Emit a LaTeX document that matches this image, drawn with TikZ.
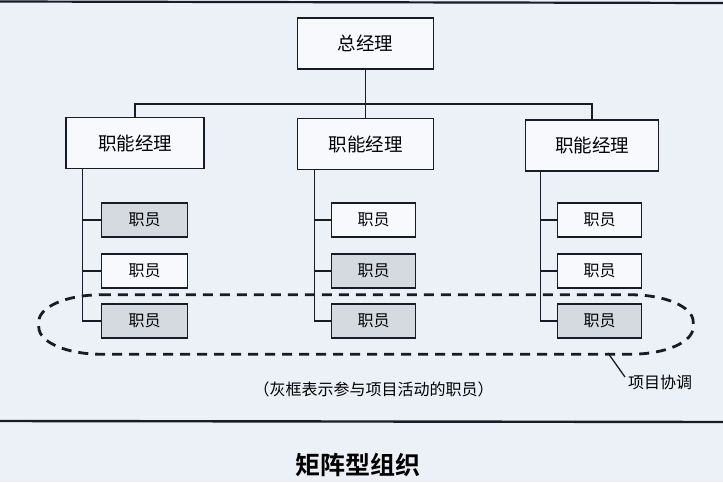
\documentclass[tikz,border=0pt]{standalone}
\usepackage{fontspec}
\newfontfamily\cjk{Noto Sans CJK SC}[BoldFont={* Bold}]
\usetikzlibrary{positioning}
\definecolor{sfondo}{RGB}{236,240,247}
\definecolor{grigio}{RGB}{213,217,224}
\definecolor{scuro}{RGB}{25,28,40}
\tikzset{
  capo/.style={draw=scuro, line width=1.6pt, fill=white!60!sfondo, inner sep=0pt,
    minimum width=136pt, minimum height=51pt, font=\cjk\fontsize{18.5}{20}\selectfont},
  impiegato/.style={draw=scuro, line width=1.6pt, fill=white!60!sfondo, inner sep=0pt,
    minimum width=84pt, minimum height=34pt, font=\cjk\fontsize{16}{18}\selectfont},
  attivo/.style={impiegato, fill=grigio},
  linea/.style={draw=scuro, line width=1.3pt},
  progetto/.style={draw=scuro, line width=2.8pt, dash pattern=on 10pt off 7pt},
}
\begin{document}
\begin{tikzpicture}[x=1pt, y=-1pt]
    \fill[sfondo] (0,0) rectangle (723,482);
    \useasboundingbox (0,0) rectangle (723,482);
    \draw[scuro, line width=2.2pt] (0,1.5) -- (723,3);

    % Dirigenti
    \node[capo] (gm) at (365.5,43.5) {总经理};
    \node[capo, minimum width=138pt] (fm1) at (135,143) {职能经理};
    \node[capo] (fm2) at (365.5,144) {职能经理};
    \node[capo, minimum width=133pt] (fm3) at (592,145.5) {职能经理};

    % Impiegati
    \node[attivo, minimum width=86pt] (e11) at (144.5,220) {职员};
    \node[impiegato, minimum width=86pt] (e12) at (144.5,271) {职员};
    \node[attivo, minimum width=86pt] (e13) at (144.5,321) {职员};
    \node[impiegato] (e21) at (373.5,220) {职员};
    \node[attivo]    (e22) at (373.5,271) {职员};
    \node[attivo]    (e23) at (373.5,321) {职员};
    \node[impiegato] (e31) at (599.5,220) {职员};
    \node[impiegato] (e32) at (599.5,271) {职员};
    \node[attivo]    (e33) at (599.5,321) {职员};

    % Collegamenti
    \coordinate (bar) at (365.5,104);
    \draw[linea] (gm.south) -- (bar) -- (fm2.north);
    \draw[linea] (fm1.north) |- (bar) -| (fm3.north);

    \coordinate (s1) at ([xshift=17pt]fm1.south west);
    \coordinate (s2) at ([xshift=18pt]fm2.south west);
    \coordinate (s3) at ([xshift=16pt]fm3.south west);
    \draw[linea] (s1) |- (e13.west);
    \draw[linea] (e11.west) -- (e11.west -| s1);
    \draw[linea] (e12.west) -- (e12.west -| s1);
    \draw[linea] (s2) |- (e23.west);
    \draw[linea] (e21.west) -- (e21.west -| s2);
    \draw[linea] (e22.west) -- (e22.west -| s2);
    \draw[linea] (s3) |- (e33.west);
    \draw[linea] (e31.west) -- (e31.west -| s3);
    \draw[linea] (e32.west) -- (e32.west -| s3);

    % Coordinamento di progetto
    \node[inner sep=0pt, minimum width=654pt, minimum height=59pt] (gruppo) at (366,324.5) {};
    \draw[progetto] ([xshift=62pt]gruppo.north west) -- ([xshift=-62pt]gruppo.north east)
        .. controls ([xshift=-28pt]gruppo.north east) and ([yshift=-12pt]gruppo.north east) .. ([yshift=-27pt]gruppo.north east)
        -- ([yshift=27pt]gruppo.south east)
        .. controls ([yshift=12pt]gruppo.south east) and ([xshift=-28pt]gruppo.south east) .. ([xshift=-62pt]gruppo.south east)
        -- ([xshift=62pt]gruppo.south west)
        .. controls ([xshift=28pt]gruppo.south west) and ([yshift=12pt]gruppo.south west) .. ([yshift=27pt]gruppo.south west)
        -- ([yshift=-27pt]gruppo.north west)
        .. controls ([yshift=-12pt]gruppo.north west) and ([xshift=28pt]gruppo.north west) .. ([xshift=62pt]gruppo.north west);
    \node[anchor=west, inner sep=0pt, font=\cjk\fontsize{16}{18}\selectfont] (nota) at (628,382) {项目协调};
    \coordinate (aggancio) at (608,353);
    \draw[linea] (aggancio) -- ([xshift=-3pt,yshift=5pt]nota.west);

    \node[font=\cjk\fontsize{16}{18}\selectfont] (legenda) at (373.5,389) {（灰框表示参与项目活动的职员）};

    \draw[scuro, line width=2.4pt] (0,421) -- (723,422);
    \node[font=\cjk\bfseries\fontsize{25}{28}\selectfont] (titolo) at (357.5,465) {矩阵型组织};
\end{tikzpicture}
\end{document}
